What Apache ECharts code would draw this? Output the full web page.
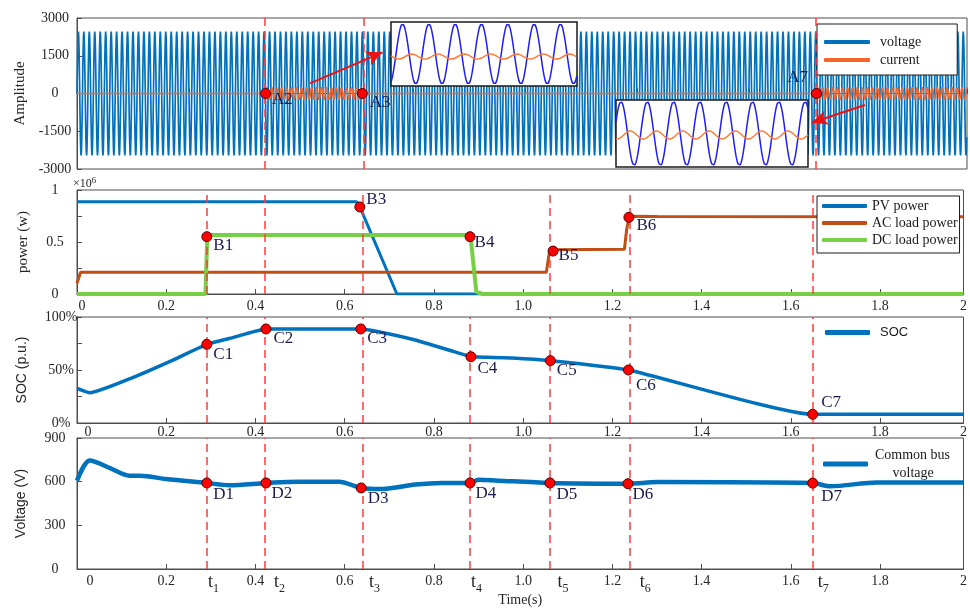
<!DOCTYPE html>
<html>
<head>
  <meta charset="UTF-8"/>
  <title></title>
  <script src="https://cdn.jsdelivr.net/npm/echarts@6/dist/echarts.min.js"></script>
  <style>
    html, body {margin: 0; padding: 0; background: #fff;}
    #main {width: 970px; height: 608px;}
  </style>
</head>
<body>
<div id="main"></div>
<script type="text/javascript">
    // 时间轴
    const timeMax = 1.987
    // 事件时刻 t1..t7
    const eventTimes = [0.291, 0.421, 0.637, 0.881, 1.062, 1.236, 1.651]

    // 波形参数
    const voltageAmp = 2460
    const voltageFreq = 82
    const currentFreq = 90
    const currentBursts = [[0.421, 0.637, 250], [1.651, 1.987, 250]]

    // 功率 (x10^6 W)
    const pvTime = [0, 0.626, 0.634, 0.717, 1.987]
    const pvPower = [0.8875, 0.8875, 0.837, 0, 0]
    const acTime = [0, 0.008, 1.052, 1.058, 1.066, 1.227, 1.232, 1.238, 1.3, 1.987]
    const acPower = [0.103, 0.209, 0.209, 0.38, 0.425, 0.43, 0.62, 0.747, 0.745, 0.743]
    const dcTime = [0, 0.288, 0.292, 0.882, 0.887, 0.895, 0.91, 1.987]
    const dcPower = [0, 0, 0.567, 0.567, 0.35, 0.02, 0, 0]

    // SOC (%)
    const socTime = [0, 0.029, 0.126, 0.215, 0.291, 0.349, 0.4235, 0.636, 0.676, 0.758, 0.833, 0.883, 0.9, 0.975, 1.061, 1.236, 1.649, 1.987]
    const socValue = [32.7, 28.6, 43.1, 59.4, 74.2, 80.5, 88.7, 88.7, 86.1, 78.3, 68.9, 62.5, 62.2, 61.3, 58.8, 50.0, 8.2, 8.2]

    // 母线电压 (V)
    const busTime = [0, 0.029, 0.074, 0.118, 0.141, 0.2, 0.291, 0.342, 0.4235, 0.498, 0.587, 0.637, 0.684, 0.758, 0.818, 0.881, 0.9, 0.944, 1.06, 1.235, 1.3, 1.649, 1.689, 1.793, 1.987]
    const busValue = [607, 745, 693, 641, 641, 618, 591, 575, 591, 600, 600, 557, 550, 580, 591, 591, 614, 607, 591, 586, 597, 590, 568, 595, 595]

    // 标注点
    const aNames = ['A2', 'A3', 'A7']
    const aTime = [0.421, 0.637, 1.651]
    const aValue = [0, 0, 0]
    const bNames = ['B1', 'B3', 'B4', 'B5', 'B6']
    const bTime = [0.291, 0.634, 0.881, 1.067, 1.237]
    const bValue = [0.551, 0.837, 0.551, 0.413, 0.737]
    const cNames = ['C1', 'C2', 'C3', 'C4', 'C5', 'C6', 'C7']
    const cTime = [0.291, 0.4235, 0.636, 0.883, 1.061, 1.236, 1.649]
    const cValue = [74.2, 88.7, 88.7, 62.5, 58.8, 50.0, 8.2]
    const dNames = ['D1', 'D2', 'D3', 'D4', 'D5', 'D6', 'D7']
    const dTime = [0.291, 0.4235, 0.637, 0.881, 1.06, 1.235, 1.649]
    const dValue = [591, 591, 557, 591, 591, 586, 590]

    // 箭头 (起点, 终点)
    const arrows = [[[0.520, 405], [0.682, 1637]], [[1.759, -457], [1.640, -1160]]]

    // 放大图参数: 周期数, 峰值相位, 电压幅值, 电流幅值, 电流偏置, 电流滞后
    const insetCycles = [7.07, 7.3]
    const insetPeak = [0.44, 0.19]
    const insetVAmp = [0.94, 0.955]
    const insetIAmp = [0.08, 0.12]
    const insetIBias = [-0.08, -0.045]
    const insetILag = [0.35, 0.35]

    const serif = 'Liberation Serif'
    const sans = 'Liberation Sans'
    const textColor = '#262626'
    const axisColor = '#4d4d4d'
    const dashColor = '#ff3b3b'

    const zip = (xs, ys) => xs.map((x, i) => [x, ys[i]])

    // 生成正弦波形
    let voltageData = []
    let vStep = 1 / (voltageFreq * 16)
    for (let t = 0; t <= timeMax; t += vStep) {
        voltageData.push([t, voltageAmp * Math.sin(2 * Math.PI * voltageFreq * t)])
    }
    let currentData = []
    let cStep = 1 / (currentFreq * 16)
    for (let t = 0; t <= timeMax; t += cStep) {
        let a = 0, t0 = 0
        currentBursts.forEach(b => {
            if (t >= b[0] && t <= b[1]) { a = b[2]; t0 = b[0] }
        })
        currentData.push([t, a * Math.sin(2 * Math.PI * currentFreq * (t - t0))])
    }
    function insetWave(k, isCurrent) {
        let out = []
        for (let x = 0; x <= insetCycles[k] + 1e-9; x += 0.02) {
            if (isCurrent) {
                out.push([x, insetIBias[k] + insetIAmp[k] * Math.cos(2 * Math.PI * (x - insetPeak[k] - insetILag[k]))])
            } else {
                out.push([x, insetVAmp[k] * Math.cos(2 * Math.PI * (x - insetPeak[k]))])
            }
        }
        return out
    }

    // 标签偏移
    const labelShift = {
        A2: [0, 6], A3: [1, 9], A7: [-2, -16],
        B1: [0, 9], B3: [0, -7], B4: [-2, 6], B5: [-1, 4], B6: [1, 8],
        C1: [0, 10], C2: [1, 10], C3: [0, 10], C4: [0, 12], C5: [0, 10], C6: [1, 16], C7: [2, -12],
        D1: [0, 12], D2: [-1, 11], D3: [0, 11], D4: [-1, 11], D5: [0, 12], D6: [-2, 11], D7: [2, 13]
    }
    const tShift = [7, 15, 12, 7, 13, 15, 10]

    function pointSeries(grid, names, xs, ys) {
        return {
            type: 'scatter',
            xAxisIndex: grid, yAxisIndex: grid,
            z: 6,
            symbolSize: 10,
            itemStyle: {color: '#ff0000', borderColor: '#5a0000', borderWidth: 1, opacity: 1},
            data: names.map((n, i) => ({
                name: n,
                value: [xs[i], ys[i]],
                label: {
                    position: n === 'A7' ? 'left' : 'right',
                    offset: labelShift[n]
                }
            })),
            label: {
                show: true, distance: 1,
                formatter: p => p.name,
                fontFamily: serif, fontSize: 17, color: '#1c1c50'
            }
        }
    }

    function dashLines(times) {
        return times.map(t => ({xAxis: t}))
    }
    const dashStyle = {color: dashColor, width: 1.5, type: [8, 5]}

    function timeAxis(grid, interval, showLabels, zeroPad, margin, extra) {
        return Object.assign({
            type: 'value', gridIndex: grid, min: 0, max: timeMax, interval: interval,
            axisLine: {show: true, lineStyle: {color: axisColor}},
            axisTick: {inside: true, length: 5, lineStyle: {color: axisColor}},
            splitLine: {show: false},
            axisLabel: {
                show: showLabels, showMinLabel: true, showMaxLabel: true, margin: margin,
                fontFamily: serif, fontSize: 14, color: textColor,
                formatter: v => v === 0 ? '{z|0}' : (v > 1.95 ? '2' : v.toFixed(1)),
                rich: {z: {padding: [0, 0, 0, zeroPad], fontFamily: serif, fontSize: 14, color: textColor}}
            }
        }, extra || {})
    }

    function valueAxis(grid, min, max, interval, name, nameFont, nameGap, labelMargin, fmt) {
        return {
            type: 'value', gridIndex: grid, min: min, max: max, interval: interval,
            name: name, nameLocation: 'middle', nameGap: nameGap,
            nameTextStyle: {fontFamily: nameFont, fontSize: nameFont === serif ? 15 : 14, color: textColor},
            axisLine: {show: true, lineStyle: {color: axisColor}},
            axisTick: {show: true, inside: true, length: 5, lineStyle: {color: axisColor}},
            splitLine: {show: false},
            axisLabel: {
                align: 'center', margin: labelMargin,
                fontFamily: serif, fontSize: 14, color: textColor,
                formatter: fmt
            }
        }
    }

    const gridBox = {show: true, borderColor: axisColor, borderWidth: 1, backgroundColor: 'transparent'}
    const insetBox = {show: true, borderColor: '#1a1a1a', borderWidth: 1.5, backgroundColor: '#ffffff', z: 10}

    let myChart = echarts.init(document.getElementById('main'), null, {renderer: 'canvas'})
    let option = {
        animation: false,
        backgroundColor: '#ffffff',
        grid: [
            Object.assign({left: 77, right: 3, top: 18, height: 151}, gridBox),
            Object.assign({left: 77, right: 3, top: 190, height: 104}, gridBox),
            Object.assign({left: 77, right: 3, top: 317, height: 106}, gridBox),
            Object.assign({left: 77, right: 3, top: 438, height: 132}, gridBox),
            Object.assign({left: 391, top: 22, width: 186, height: 64}, insetBox),
            Object.assign({left: 616, top: 100, width: 192, height: 67}, insetBox)
        ],
        xAxis: [
            timeAxis(0, 0.25, false, 0, 5),
            timeAxis(1, 0.2, true, 10, 5),
            timeAxis(2, 0.2, true, 22, 2),
            timeAxis(3, 0.2, true, 26, 5, {
                name: 'Time(s)', nameLocation: 'middle', nameGap: 24,
                nameTextStyle: {fontFamily: serif, fontSize: 14, color: textColor}
            }),
            {type: 'value', gridIndex: 4, min: 0, max: insetCycles[0], show: false},
            {type: 'value', gridIndex: 5, min: 0, max: insetCycles[1], show: false}
        ],
        yAxis: [
            valueAxis(0, -3000, 3000, 1500, 'Amplitude', serif, 45, 22, v => String(v)),
            valueAxis(1, 0, 1, 0.25, 'power (w)', serif, 46, 22,
                v => v === 0 ? '0' : (v === 0.5 ? '0.5' : (v === 1 ? '1' : ''))),
            valueAxis(2, 0, 100, 25, 'SOC (p.u.)', sans, 48, 16,
                v => (v % 50 === 0) ? v + '%' : ''),
            valueAxis(3, 0, 900, 300, 'Voltage (V)', sans, 49, 22, v => String(v)),
            {type: 'value', gridIndex: 4, min: -1, max: 1, show: false},
            {type: 'value', gridIndex: 5, min: -1, max: 1, show: false}
        ],
        legend: [
            {
                data: ['voltage', 'current'], orient: 'vertical', left: 817, top: 24,
                padding: [11, 36, 8, 7], itemWidth: 46, itemHeight: 4, itemGap: 4, icon: 'roundRect',
                backgroundColor: '#ffffff', borderColor: '#1a1a1a', borderWidth: 1,
                textStyle: {fontFamily: serif, fontSize: 14, color: '#1a1a1a', padding: [0, 0, 0, 5]}
            },
            {
                data: ['PV power', 'AC load power', 'DC load power'], orient: 'vertical', left: 817, top: 196,
                padding: [3, 2, 6, 5], itemWidth: 45, itemHeight: 4, itemGap: 3, icon: 'roundRect',
                backgroundColor: '#ffffff', borderColor: '#1a1a1a', borderWidth: 1,
                textStyle: {fontFamily: serif, fontSize: 14, color: '#1a1a1a'}
            },
            {
                data: ['SOC'], orient: 'vertical', left: 825, top: 326, padding: 0,
                itemWidth: 45, itemHeight: 5, icon: 'roundRect',
                textStyle: {fontFamily: sans, fontSize: 13, color: '#1a1a1a', padding: [0, 0, 0, 5]}
            },
            {
                data: ['Common bus voltage'], orient: 'vertical', left: 823, top: 446, padding: 0,
                itemWidth: 45, itemHeight: 5, icon: 'roundRect',
                formatter: () => 'Common bus\n     voltage',
                textStyle: {fontFamily: serif, fontSize: 14, lineHeight: 18, color: '#1a1a1a', padding: [0, 0, 0, 2]}
            }
        ],
        graphic: [
            {
                type: 'text', left: 73, top: 176,
                style: {
                    text: '{a|×10}{b|6}',
                    rich: {
                        a: {fontFamily: serif, fontSize: 12, lineHeight: 14, verticalAlign: 'bottom', fill: textColor},
                        b: {fontFamily: serif, fontSize: 9, lineHeight: 9, verticalAlign: 'top', fill: textColor}
                    }
                }
            }
        ],
        series: [
            {
                name: 'voltage', type: 'line', xAxisIndex: 0, yAxisIndex: 0, z: 2,
                showSymbol: false, color: '#0072bd', lineStyle: {width: 1.7},
                data: voltageData
            },
            {
                name: 'current', type: 'line', xAxisIndex: 0, yAxisIndex: 0, z: 3,
                showSymbol: false, color: '#f4652a', lineStyle: {width: 1.6},
                data: currentData,
                markLine: {
                    silent: true, symbol: ['none', 'none'], label: {show: false},
                    lineStyle: dashStyle,
                    data: dashLines([eventTimes[1], eventTimes[2], eventTimes[6]]).concat(
                        arrows.map(a => [
                            {coord: a[0], symbol: 'none', lineStyle: {color: '#ee1111', width: 2, type: 'solid'}},
                            {coord: a[1], symbol: 'arrow', symbolSize: [11, 16]}
                        ])
                    )
                }
            },
            pointSeries(0, aNames, aTime, aValue),
            {
                name: 'PV power', type: 'line', xAxisIndex: 1, yAxisIndex: 1,
                showSymbol: false, color: '#0072bd', lineStyle: {width: 3},
                data: zip(pvTime, pvPower)
            },
            {
                name: 'AC load power', type: 'line', xAxisIndex: 1, yAxisIndex: 1,
                showSymbol: false, color: '#c04e15', lineStyle: {width: 3},
                data: zip(acTime, acPower)
            },
            {
                name: 'DC load power', type: 'line', xAxisIndex: 1, yAxisIndex: 1,
                showSymbol: false, color: '#77cf45', lineStyle: {width: 4},
                data: zip(dcTime, dcPower),
                markLine: {
                    silent: true, symbol: ['none', 'none'], label: {show: false}, lineStyle: dashStyle,
                    data: dashLines([0, 1, 2, 4, 5, 6].map(i => eventTimes[i]))
                }
            },
            pointSeries(1, bNames, bTime, bValue),
            {
                name: 'SOC', type: 'line', xAxisIndex: 2, yAxisIndex: 2, smooth: 0.15,
                showSymbol: false, color: '#0072bd', lineStyle: {width: 3.5},
                data: zip(socTime, socValue),
                markLine: {
                    silent: true, symbol: ['none', 'none'], label: {show: false}, lineStyle: dashStyle,
                    data: dashLines(eventTimes)
                }
            },
            pointSeries(2, cNames, cTime, cValue),
            {
                name: 'Common bus voltage', type: 'line', xAxisIndex: 3, yAxisIndex: 3, smooth: 0.3,
                showSymbol: false, color: '#0072bd', lineStyle: {width: 4.5},
                data: zip(busTime, busValue),
                markLine: {
                    silent: true, symbol: ['none', 'none'], lineStyle: dashStyle,
                    data: eventTimes.map((t, i) => ({
                        xAxis: t,
                        label: {
                            show: true, position: 'start', distance: 4, offset: [tShift[i], 0],
                            formatter: '{t|t}{s|' + (i + 1) + '}',
                            rich: {
                                t: {fontFamily: serif, fontSize: 18, lineHeight: 22, verticalAlign: 'top', color: textColor},
                                s: {fontFamily: serif, fontSize: 12, lineHeight: 12, verticalAlign: 'bottom', color: textColor}
                            }
                        }
                    }))
                }
            },
            pointSeries(3, dNames, dTime, dValue),
            {
                type: 'line', xAxisIndex: 4, yAxisIndex: 4, z: 11, showSymbol: false,
                color: '#1f1ff0', lineStyle: {width: 1.5}, data: insetWave(0, false)
            },
            {
                type: 'line', xAxisIndex: 4, yAxisIndex: 4, z: 11, showSymbol: false,
                color: '#ff7a35', lineStyle: {width: 1.5}, data: insetWave(0, true)
            },
            {
                type: 'line', xAxisIndex: 5, yAxisIndex: 5, z: 11, showSymbol: false,
                color: '#1f1ff0', lineStyle: {width: 1.5}, data: insetWave(1, false)
            },
            {
                type: 'line', xAxisIndex: 5, yAxisIndex: 5, z: 11, showSymbol: false,
                color: '#ff7a35', lineStyle: {width: 1.5}, data: insetWave(1, true)
            }
        ]
    }
    myChart.setOption(option)
</script>
</body>
</html>
